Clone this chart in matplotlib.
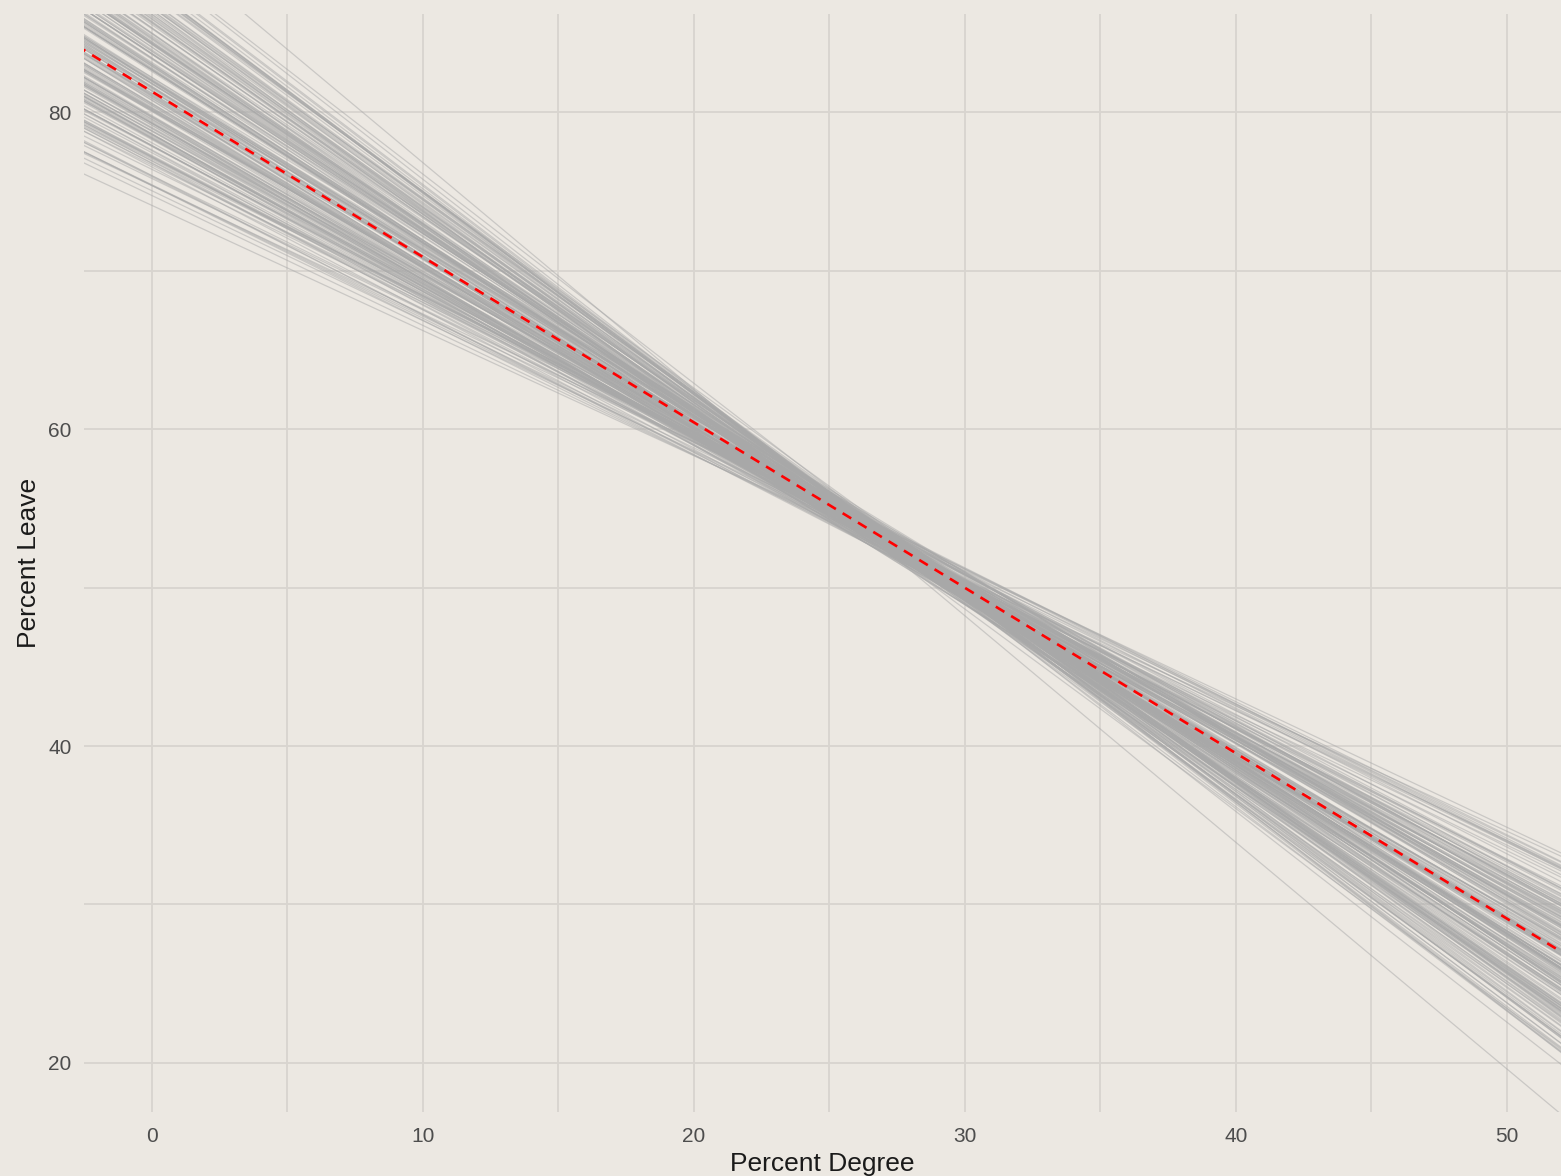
import numpy as np
import matplotlib
matplotlib.use("Agg")
import matplotlib.pyplot as plt
from matplotlib.ticker import MultipleLocator

# posterior draws of the regression line, y = a + b * (x - x_center)
x_center = 27.5
draw_a = [52.6, 53.1, 52.0, 52.9, 51.8, 52.7, 53.3, 52.3, 52.5, 53.0,
          52.1, 52.6, 53.4, 52.4, 52.9, 51.7, 52.8, 52.5, 53.5, 52.2,
          52.6, 53.1, 51.9, 52.7, 52.3, 53.2, 52.5, 52.0, 52.9, 52.6,
          51.6, 52.8, 52.4, 53.3, 52.5, 52.1, 53.0, 52.6, 51.8, 52.9,
          52.5, 53.6, 52.0, 52.7, 52.3, 52.6, 53.1, 51.9, 52.5, 52.9,
          52.2, 52.6, 53.2, 52.4, 52.8, 51.7, 52.5, 53.0, 52.1, 52.6,
          52.9, 52.3, 53.4, 52.2, 52.7, 52.5, 51.8, 53.1, 52.6, 52.4,
          52.8, 52.0, 52.9, 53.5, 52.5, 52.2, 52.6, 53.0, 51.9, 52.7,
          52.4, 52.6, 53.2, 52.1, 52.8, 52.5, 52.2, 52.7, 51.6, 52.6,
          53.0, 52.3, 52.5, 53.3, 52.7, 52.0, 52.6, 52.9, 52.2, 52.5,
          52.7, 52.2, 53.1, 51.9, 52.6, 52.8, 52.4, 53.2, 52.0, 52.5,
          52.9, 51.8, 52.6, 53.0, 52.3, 52.7, 51.7, 52.5, 53.3, 52.4,
          52.1, 52.8, 52.6, 53.1, 51.9, 52.5, 52.9, 52.2, 52.7, 53.4,
          52.3, 52.6, 51.8, 52.9, 52.5, 53.0, 52.1, 52.7, 52.4, 52.6,
          53.2, 52.0, 52.8, 52.5, 51.9, 52.7, 53.1, 52.3, 52.6, 52.2,
          52.5, 52.9, 51.7, 52.6, 53.3, 52.4, 52.8, 52.1, 52.6, 53.0,
          52.3, 52.7, 52.5, 51.8, 52.9, 52.4, 53.2, 52.0, 52.6, 52.8,
          52.6, 52.2, 53.0, 52.5, 51.9, 52.7, 52.4, 53.1, 52.3, 52.6,
          52.8, 52.1, 52.5, 53.3, 52.6, 52.0, 52.7, 52.4, 52.9, 52.2,
          51.8, 52.4, 53.0, 52.2, 52.7, 53.1, 52.5, 52.9, 52.3, 52.6]
draw_b = [-1.04, -0.92, -1.18, -1.10, -0.88, -1.00, -1.24, -1.08, -0.95, -1.14,
          -0.99, -1.21, -0.86, -1.06, -1.12, -0.97, -1.27, -0.93, -1.03, -1.16,
          -1.19, -0.90, -1.05, -1.09, -0.84, -1.22, -1.01, -1.13, -0.96, -1.30,
          -1.07, -0.89, -1.11, -0.98, -1.17, -1.02, -0.94, -1.25, -1.15, -0.99,
          -0.82, -1.04, -1.20, -1.09, -0.93, -1.28, -1.01, -0.91, -1.16, -1.06,
          -1.03, -1.12, -0.87, -1.21, -0.98, -1.10, -0.95, -1.23, -1.05, -0.92,
          -1.26, -1.08, -0.97, -1.18, -0.89, -1.14, -1.00, -1.22, -0.94, -1.07,
          -1.13, -0.85, -1.19, -1.02, -1.11, -0.96, -1.29, -0.99, -1.08, -0.90,
          -1.17, -1.04, -0.95, -1.24, -1.01, -1.15, -0.91, -1.20, -1.06, -0.98,
          -0.83, -1.18, -1.10, -1.03, -1.26, -0.93, -1.13, -0.99, -1.22, -1.05,
          -1.09, -0.96, -1.16, -1.01, -0.88, -1.23, -1.07, -0.94, -1.12, -1.02,
          -1.20, -0.90, -1.05, -1.14, -0.97, -1.27, -1.00, -1.11, -0.86, -1.08,
          -1.03, -1.19, -0.92, -1.10, -1.06, -0.99, -1.24, -0.95, -1.15, -1.04,
          -0.89, -1.13, -1.01, -1.21, -0.97, -1.08, -1.17, -0.93, -1.02, -1.28,
          -1.11, -0.87, -1.06, -1.18, -1.00, -0.95, -1.14, -1.25, -0.91, -1.07,
          -1.04, -1.22, -0.98, -1.09, -0.84, -1.16, -1.03, -1.12, -0.96, -1.20,
          -1.00, -1.10, -0.94, -1.26, -1.05, -0.90, -1.15, -1.02, -1.19, -0.97,
          -1.13, -1.06, -0.88, -1.23, -1.01, -1.09, -0.95, -1.17, -1.04, -0.92,
          -1.21, -0.99, -1.08, -0.85, -1.14, -1.03, -1.27, -0.96, -1.11, -1.06,
          -1.43, -0.79, -1.32, -0.82, -1.30, -0.81, -1.33, -0.84, -1.29, -0.83]
# mean line
mean_a = 52.6
mean_b = -1.044

x_ticks = [0, 10, 20, 30, 40, 50]
y_ticks = [20, 40, 60, 80]

bg = "#ECE8E2"
plt.rcParams['font.family'] = ['Liberation Sans', 'DejaVu Sans']

fig = plt.figure(figsize=(15.61, 11.76), dpi=100, facecolor=bg)
ax = fig.add_axes([0.0538, 0.0544, 0.9462, 0.9337])
ax.set_facecolor(bg)

xs = np.array([-10.0, 60.0])
for a, b in zip(draw_a, draw_b):
    ax.plot(xs, a + b * (xs - x_center), color="#A8A8A8", lw=0.9, alpha=0.5,
            solid_capstyle="butt", zorder=2)
ax.plot(xs, mean_a + mean_b * (xs - x_center), color="red", lw=1.9,
        ls=(0, (3.8, 3.0)), zorder=3)

ax.set_xlim(-2.5, 52.0)
ax.set_ylim(16.9, 86.2)
ax.set_xticks(x_ticks)
ax.set_yticks(y_ticks)
ax.xaxis.set_minor_locator(MultipleLocator(5))
ax.yaxis.set_minor_locator(MultipleLocator(10))
ax.grid(True, which="both", color="#D8D4CF", lw=1.3, zorder=0)
ax.set_axisbelow(True)
for s in ax.spines.values():
    s.set_visible(False)
ax.tick_params(which="both", length=0)
ax.tick_params(axis="x", labelsize=15, labelcolor="#4D4D4D", pad=11)
ax.tick_params(axis="y", labelsize=15, labelcolor="#4D4D4D", pad=9)

ax.set_xlabel("Percent Degree", fontsize=19, color="#1A1A1A", labelpad=4)
ax.set_ylabel("Percent Leave", fontsize=19, color="#1A1A1A", labelpad=5)

fig.savefig("out.png", dpi=100, facecolor=bg)
